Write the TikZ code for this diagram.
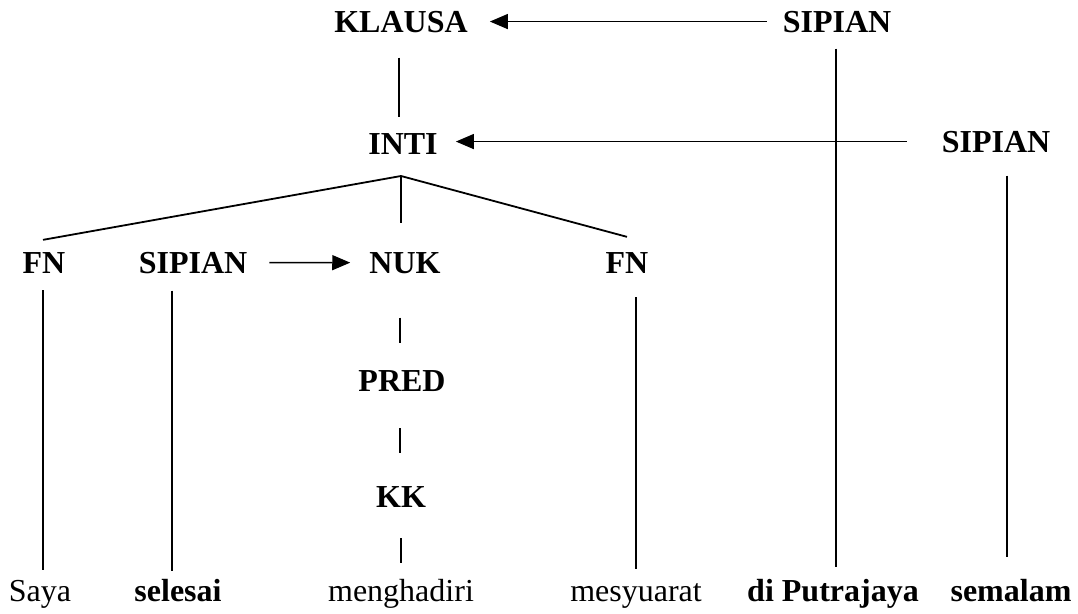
\documentclass[tikz,border=0pt]{standalone}
\usepackage{fontspec}
\setmainfont{Liberation Serif}
\usetikzlibrary{arrows.meta}
\begin{document}
\begin{tikzpicture}[x=1pt,y=-1pt,
  lbl/.style={inner sep=0pt, anchor=base, font=\fontsize{32}{38}\selectfont\bfseries},
  wrd/.style={inner sep=0pt, anchor=base, font=\fontsize{32}{38}\selectfont},
  ln/.style={line width=1.8pt},
  arr/.style={line width=1.5pt, -{Triangle[length=18pt,width=15pt]}}]
\useasboundingbox (0,0) rectangle (1078,613);
\node[lbl] (klausa) at (401,32) {KLAUSA};
\node[lbl] (sipA) at (837,32) {SIPIAN};
\node[lbl] (inti) at (403,154) {INTI};
\node[lbl] (sipB) at (996,152) {SIPIAN};
\node[lbl] (fn1) at (44,273) {FN};
\node[lbl] (sipC) at (193,273) {SIPIAN};
\node[lbl] (nuk) at (405,273) {NUK};
\node[lbl] (fn2) at (627,273) {FN};
\node[lbl] (pred) at (402,391) {PRED};
\node[lbl] (kk) at (401,507) {KK};
\node[wrd] (saya) at (40,601) {Saya};
\node[lbl] (selesai) at (178,601) {selesai};
\node[wrd] (mengh) at (401,601) {menghadiri};
\node[wrd] (mesy) at (636,601) {mesyuarat};
\node[lbl] (diput) at (833,601) {di Putrajaya};
\node[lbl] (semalam) at (1011,601) {semalam};
\coordinate (apex) at (401,176);
% arrows
\draw[arr, shorten <=16pt, shorten >=22pt] (sipA.west) -- (klausa.east);
\draw[arr, shorten <=35pt, shorten >=18pt] (sipB.west) -- (inti.east |- sipB.west);
\draw[arr, shorten <=22pt, shorten >=19pt] (sipC.east) -- (nuk.west);
% tree
\draw[ln, shorten <=25pt, shorten >=16pt] ([xshift=-2pt]klausa.south) -- ([xshift=-4pt]inti.north);
\draw[ln] (apex) -- ([xshift=-1pt, yshift=12pt]fn1.north);
\draw[ln] (apex) -- ([yshift=15pt]fn2.north);
\draw[ln, shorten >=29pt] (apex) -- (apex |- nuk.north);
% verticals
\draw[ln, shorten <=17pt, shorten >=10pt] ([xshift=-1pt]fn1.south) -- ([xshift=-1pt]fn1.south |- saya.north);
\draw[ln, shorten <=17pt, shorten >=8pt] ([xshift=-6pt]selesai.north |- sipC.south) -- ([xshift=-6pt]selesai.north);
\draw[ln, shorten <=44pt, shorten >=27pt] ([xshift=-5pt]nuk.south) -- ([xshift=-2pt]pred.north);
\draw[ln, shorten <=37pt, shorten >=33pt] ([xshift=-2pt]pred.south) -- ([xshift=-1pt]kk.north);
\draw[ln, shorten <=31pt, shorten >=16pt] (kk.south) -- (kk.south |- mengh.north);
\draw[ln, shorten <=24pt, shorten >=14pt] ([xshift=9pt]fn2.south) -- (mesy.north);
\draw[ln, shorten <=16pt, shorten >=12pt] ([xshift=-1pt]sipA.south) -- ([xshift=-1pt]sipA.south |- diput.north);
\draw[ln, shorten <=23pt, shorten >=22pt] ([xshift=11pt]sipB.south) -- ([xshift=-4pt]semalam.north);
\end{tikzpicture}
\end{document}
